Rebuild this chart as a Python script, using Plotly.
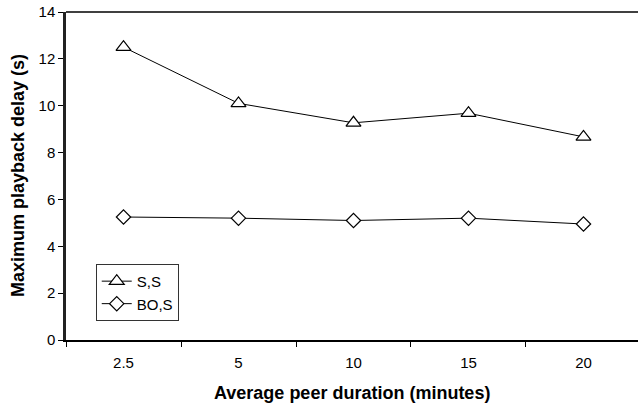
import plotly.graph_objects as go

categories = ["2.5", "5", "10", "15", "20"]
ss_values = [12.5, 10.1, 9.27, 9.68, 8.67]
bos_values = [5.25, 5.2, 5.1, 5.2, 4.95]
y_ticks = [0, 2, 4, 6, 8, 10, 12, 14]

fig = go.Figure()
fig.add_trace(go.Scatter(
    x=categories, y=ss_values, name="S,S", mode="lines+markers",
    line=dict(color="black", width=1),
    marker=dict(symbol="triangle-up", size=13, color="white",
                line=dict(color="black", width=1.2)),
))
fig.add_trace(go.Scatter(
    x=categories, y=bos_values, name="BO,S", mode="lines+markers",
    line=dict(color="black", width=1),
    marker=dict(symbol="diamond", size=11, color="white",
                line=dict(color="black", width=1.2)),
))

fig.update_layout(
    width=638, height=407,
    margin=dict(l=66, r=0, t=12, b=67),
    paper_bgcolor="white", plot_bgcolor="white",
    font=dict(family="Liberation Sans, Arial", size=15, color="black"),
    showlegend=True,
    legend=dict(x=0.052, y=0.232, xanchor="left", yanchor="top",
                bordercolor="#333", borderwidth=1, bgcolor="white",
                font=dict(size=15), tracegroupgap=0, itemwidth=30),
    shapes=[dict(type="line", xref="paper", yref="paper", x0=0, x1=1, y0=1, y1=1,
                 line=dict(color="black", width=1.5))],
    annotations=[
        dict(text="<b>Average peer duration (minutes)</b>", xref="paper", yref="paper",
             x=0.5, y=-53 / 328, xanchor="center", yanchor="middle", showarrow=False,
             font=dict(size=18)),
        dict(text="<b>Maximum playback delay (s)</b>", xref="paper", yref="paper",
             x=-48 / 572, y=0.5, xanchor="center", yanchor="middle", showarrow=False,
             textangle=-90, font=dict(size=18)),
    ],
)
fig.update_xaxes(
    type="category", range=[-0.5, 4.474], tickson="boundaries",
    ticks="outside", ticklen=5, tickcolor="black", ticklabelstandoff=8,
    showline=True, linecolor="black", linewidth=1.5,
    showgrid=False, zeroline=False, automargin=False,
)
fig.update_yaxes(
    range=[0, 14], tickvals=y_ticks, ticks="outside", ticklen=5, tickcolor="black",
    showline=True, linecolor="#222", linewidth=2.5,
    showgrid=False, zeroline=False, automargin=False,
)

fig.write_html(
    "out.html",
    config={"displayModeBar": False},
    post_script="document.body.style.margin='0';document.body.style.overflow='hidden';",
)
